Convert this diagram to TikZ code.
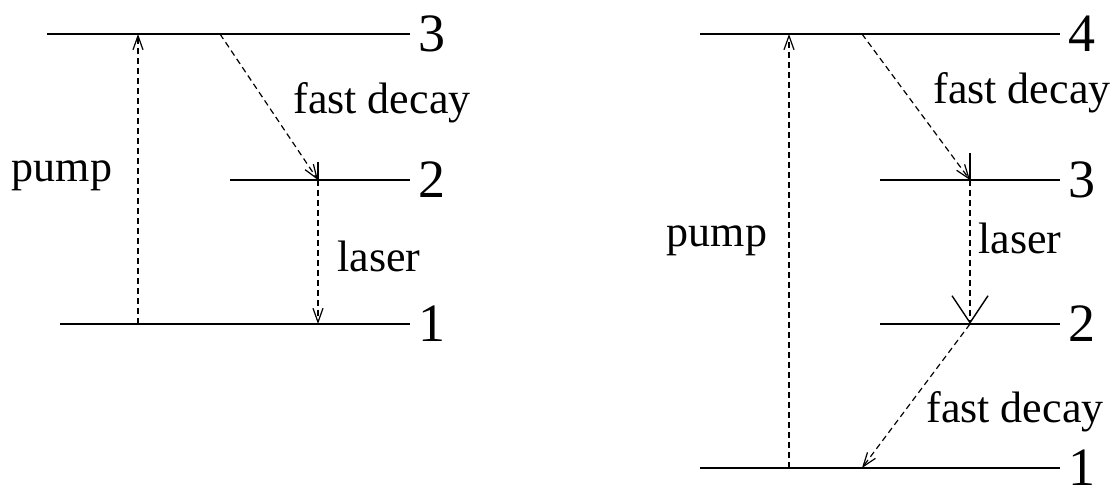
\documentclass[tikz,border=0pt]{standalone}
\usepackage{fontspec}
\setmainfont{Liberation Serif}
\usetikzlibrary{arrows.meta}
\begin{document}
\begin{tikzpicture}[x=1pt,y=-1pt,
  level/.style={line width=1.6pt},
  trans/.style={line width=1.2pt,dash pattern=on 6pt off 4pt},
  tip/.style={-{Straight Barb[length=14pt,width=10pt,line width=1.2pt]}},
  bigtip/.style={-{Straight Barb[length=27pt,width=36pt,line width=1.4pt]}},
  lab/.style={font=\fontsize{44}{48}\selectfont,inner sep=0pt},
  num/.style={font=\fontsize{54}{58}\selectfont,inner sep=0pt,anchor=west,xshift=8pt},
  tick/.style={line width=1.2pt}]
\useasboundingbox (0,0) rectangle (1120,486);
% ---------- left diagram ----------
\coordinate (L3a) at (47,34);   \coordinate (L3b) at (410,34);
\coordinate (L2a) at (230,180); \coordinate (L2b) at (410,180);
\coordinate (L1a) at (60,324);  \coordinate (L1b) at (410,324);
\draw[level] (L3a) -- (L3b) node[num] (n3) {3};
\draw[level] (L2a) -- (L2b) node[num] (n2) {2};
\draw[level] (L1a) -- (L1b) node[num] (n1) {1};
\coordinate (pb) at (138,324); \coordinate (pt) at (138,34);
\draw[trans,tip] (pb) -- (pt);
\coordinate (fs) at (220,34); \coordinate (fe) at (318,180);
\draw[trans,tip] (fs) -- (fe);
\coordinate (tk1) at (318,162);
\draw[tick] (tk1) -- (fe);
\coordinate (ls) at (318,180); \coordinate (le) at (318,324);
\draw[trans,tip] (ls) -- (le);
\node[lab] (pumpL) at (62,176) {pump};
\node[lab] (fdL) at (382,103) {fast decay};
\node[lab] (laserL) at (379,256) {laser};
% ---------- right diagram ----------
\coordinate (R4a) at (700,34);  \coordinate (R4b) at (1060,34);
\coordinate (R3a) at (880,180); \coordinate (R3b) at (1060,180);
\coordinate (R2a) at (880,324); \coordinate (R2b) at (1060,324);
\coordinate (R1a) at (700,468); \coordinate (R1b) at (1060,468);
\draw[level] (R4a) -- (R4b) node[num] (m4) {4};
\draw[level] (R3a) -- (R3b) node[num] (m3) {3};
\draw[level] (R2a) -- (R2b) node[num] (m2) {2};
\draw[level] (R1a) -- (R1b) node[num] (m1) {1};
\coordinate (qb) at (789,468); \coordinate (qt) at (789,34);
\draw[trans,tip] (qb) -- (qt);
\coordinate (gs) at (862,34); \coordinate (ge) at (970,180);
\draw[trans,tip] (gs) -- (ge);
\coordinate (tk2) at (970,153);
\draw[tick] (tk2) -- (ge);
\coordinate (ms) at (970,180); \coordinate (me) at (970,324);
\draw[trans,bigtip] (ms) -- (me);
\coordinate (hs) at (970,324); \coordinate (he) at (862,468);
\draw[trans,tip] (hs) -- (he);
\node[lab] (pumpR) at (717,241) {pump};
\node[lab] (fdR1) at (1022,93) {fast decay};
\node[lab] (laserR) at (1020,238) {laser};
\node[lab] (fdR2) at (1015,412) {fast decay};
\end{tikzpicture}
\end{document}
